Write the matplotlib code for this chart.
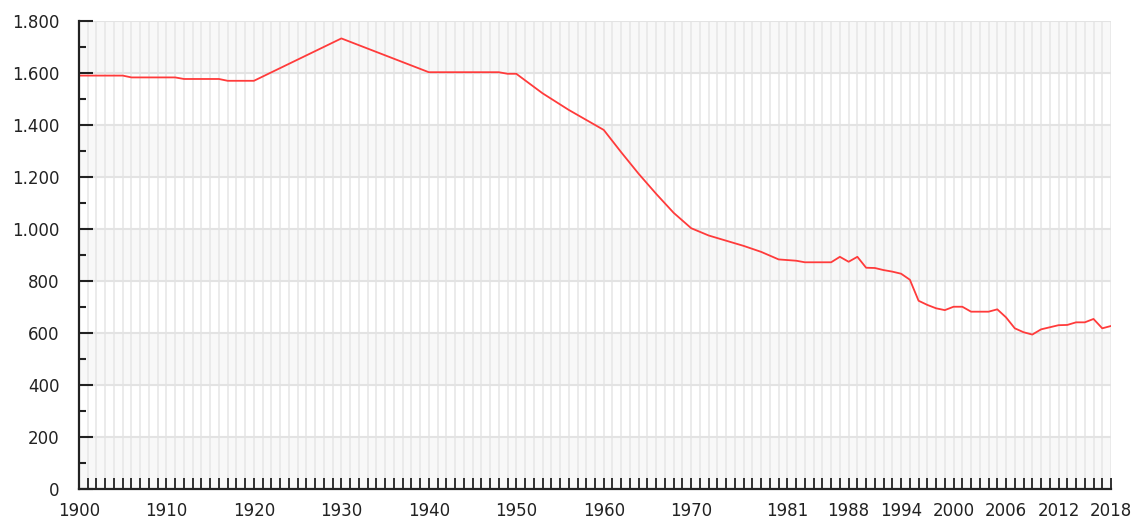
import matplotlib
matplotlib.use("Agg")
import matplotlib.pyplot as plt
from matplotlib.ticker import FixedLocator, MultipleLocator, FuncFormatter

years = [1900, 1905, 1906, 1911, 1912, 1916, 1917, 1920, 1930, 1940, 1948, 1949, 1950,
         1953, 1956, 1960, 1962, 1964, 1966, 1968, 1970, 1972, 1974, 1976, 1978, 1980,
         1982, 1983, 1984, 1985, 1986, 1987, 1988, 1989, 1990, 1991, 1992, 1993, 1994,
         1995, 1996, 1997, 1998, 1999, 2000, 2001, 2002, 2003, 2004, 2005, 2006, 2007,
         2008, 2009, 2010, 2011, 2012, 2013, 2014, 2015, 2016, 2017, 2018]
population = [1590, 1590, 1583, 1583, 1577, 1577, 1570, 1570, 1733, 1603, 1603, 1597, 1597,
              1522, 1458, 1381, 1295, 1212, 1135, 1062, 1003, 975, 955, 935, 912, 883,
              878, 872, 872, 872, 872, 893, 874, 893, 851, 850, 842, 836, 828,
              805, 724, 708, 695, 688, 701, 701, 682, 682, 682, 691, 660, 618,
              603, 594, 614, 622, 630, 631, 641, 641, 654, 618, 627]

xtick_labels = [1900, 1910, 1920, 1930, 1940, 1950, 1960, 1970, 1981, 1988, 1994,
                2000, 2006, 2012, 2018]
yticks = [0, 200, 400, 600, 800, 1000, 1200, 1400, 1600, 1800]

fig = plt.figure(figsize=(11.33, 5.21), dpi=100)
ax = fig.add_axes([79/1133, 1 - 489/521, (1111 - 79)/1133, (489 - 21)/521])

x0, x1 = 1900, 2018
ax.set_xlim(x0, x1)
ax.set_ylim(0, 1800)

# alternating bands
for i, lo in enumerate(yticks[:-1]):
    if i % 2 == 0:
        ax.axhspan(lo, lo + 200, color="#f8f8f8", zorder=0, lw=0)

# grid
for yr in range(x0, x1 + 1):
    ax.axvline(yr, color="#e6e6e6", lw=1.1, zorder=1)
for yv in yticks:
    ax.axhline(yv, color="#e3e3e3", lw=1.5, zorder=1)

ax.plot(years, population, color="#ff3b3b", lw=1.3, zorder=3, solid_joinstyle="round")

ax.xaxis.set_major_locator(FixedLocator(xtick_labels))
ax.xaxis.set_minor_locator(MultipleLocator(1))
ax.yaxis.set_major_locator(FixedLocator(yticks))
ax.yaxis.set_minor_locator(MultipleLocator(100))
ax.yaxis.set_major_formatter(FuncFormatter(lambda v, p: f"{int(v):,}".replace(",", ".")))

for s in ["top", "right"]:
    ax.spines[s].set_visible(False)
for s in ["left", "bottom"]:
    ax.spines[s].set_color("#222222")
    ax.spines[s].set_linewidth(1.6)
    ax.spines[s].set_zorder(4)

ax.tick_params(axis="y", which="major", direction="in", length=10, width=1.5,
               color="#222222", labelsize=12, pad=14, labelcolor="#222222")
ax.tick_params(axis="y", which="minor", direction="in", length=5, width=1.5, color="#222222")
ax.tick_params(axis="x", which="major", direction="in", length=8, width=1.3,
               color="#222222", labelsize=12, pad=9, labelcolor="#222222")
ax.tick_params(axis="x", which="minor", direction="in", length=8, width=1.3, color="#222222")

fig.savefig("out.png", dpi=100)
